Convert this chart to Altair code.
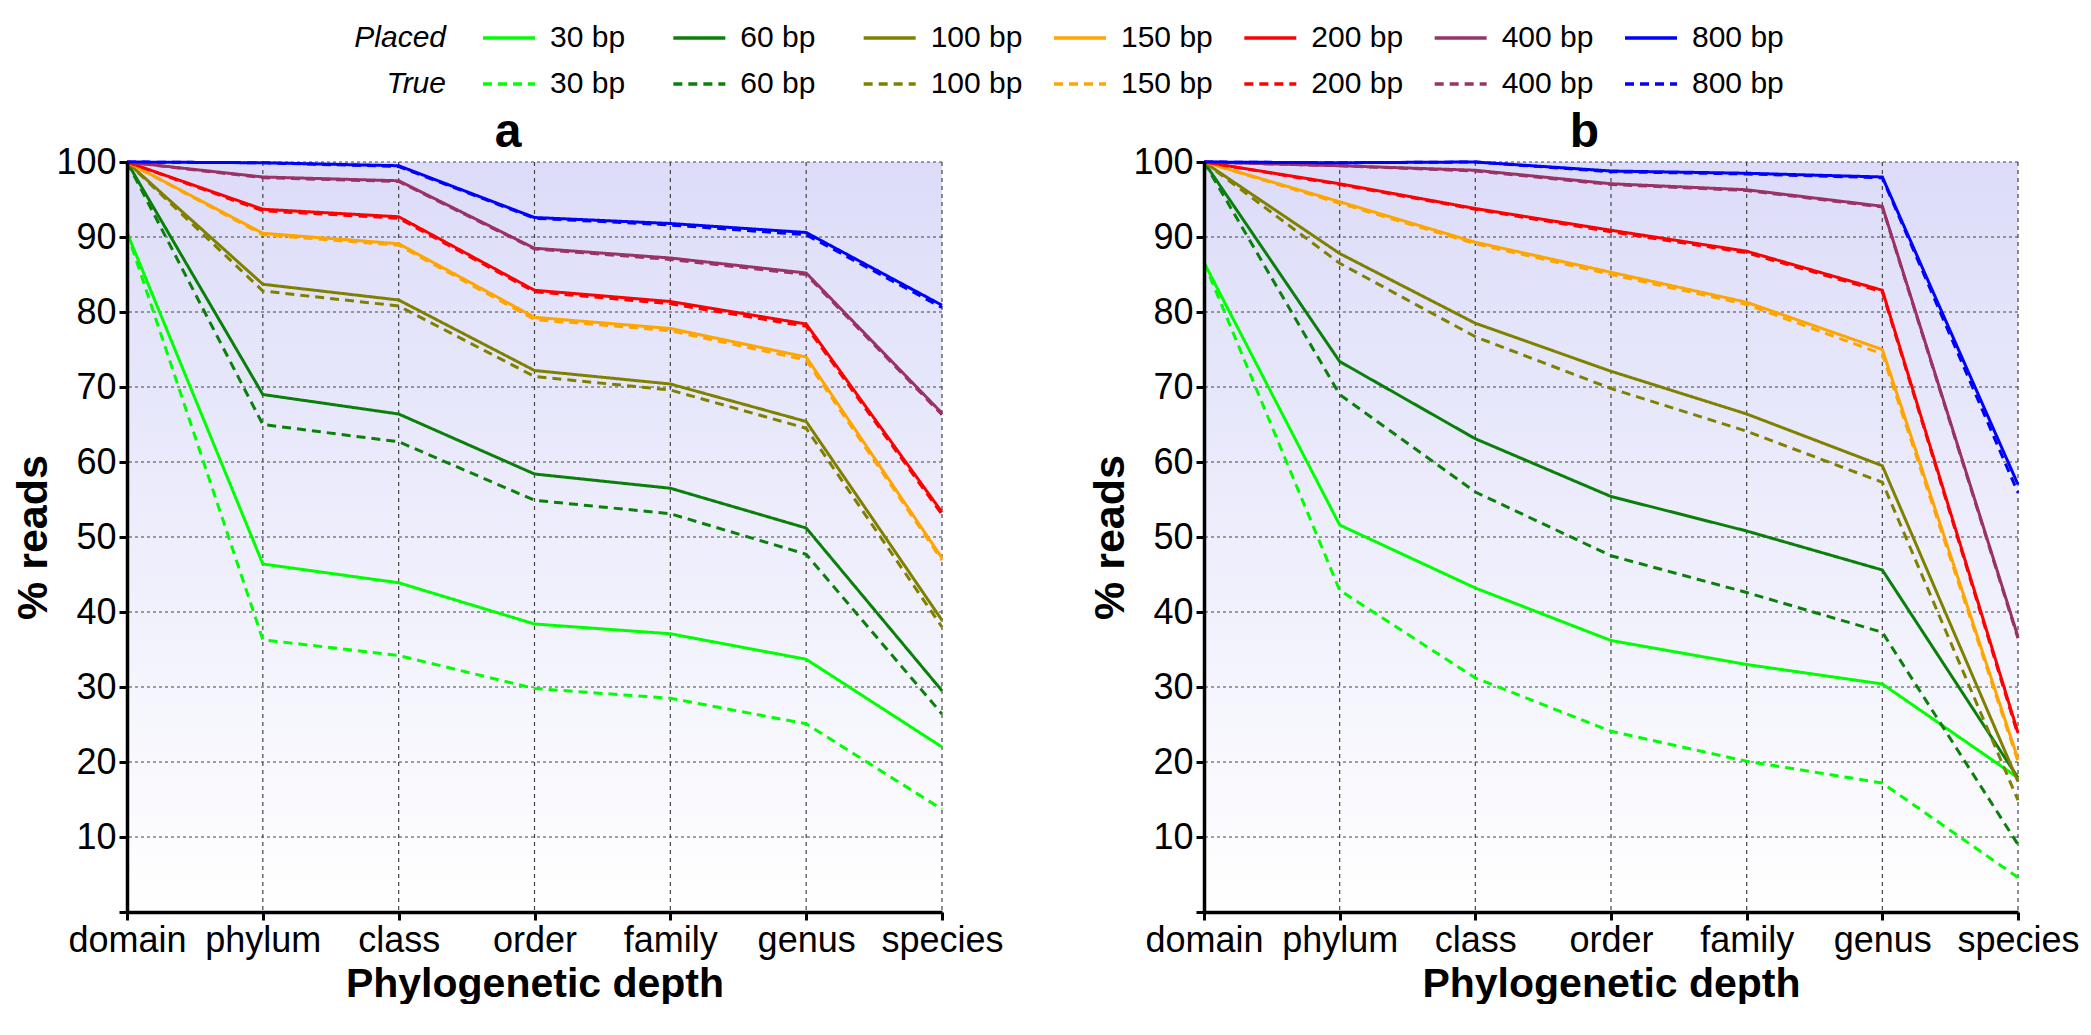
import altair as alt
import pandas as pd

RANKS = ["domain", "phylum", "class", "order", "family", "genus", "species"]
LENGTHS = ["30 bp", "60 bp", "100 bp", "150 bp", "200 bp", "400 bp", "800 bp"]
COLORS = ["#00ff00", "#0a800a", "#808000", "#ffa500", "#ff0000", "#993366", "#0000ff"]
KINDS = ["Placed", "True"]
Y_TICKS = [0, 10, 20, 30, 40, 50, 60, 70, 80, 90, 100]

# panel a
A_PLACED = {
    "30 bp": [90.6, 46.4, 43.9, 38.4, 37.1, 33.7, 22.0],
    "60 bp": [100, 69.0, 66.4, 58.4, 56.5, 51.2, 29.5],
    "100 bp": [100, 83.7, 81.6, 72.2, 70.4, 65.4, 38.9],
    "150 bp": [100, 90.5, 89.1, 79.3, 77.8, 74.0, 47.2],
    "200 bp": [100, 93.7, 92.7, 82.9, 81.4, 78.4, 53.3],
    "400 bp": [100, 98.0, 97.5, 88.5, 87.2, 85.2, 66.5],
    "800 bp": [100, 99.9, 99.5, 92.6, 91.8, 90.6, 80.9],
}
A_TRUE = {
    "30 bp": [90.6, 36.3, 34.2, 29.8, 28.5, 25.1, 13.7],
    "60 bp": [100, 65.0, 62.7, 54.9, 53.1, 47.7, 26.4],
    "100 bp": [100, 82.8, 80.8, 71.4, 69.6, 64.5, 38.0],
    "150 bp": [100, 90.3, 88.9, 79.0, 77.5, 73.6, 46.9],
    "200 bp": [100, 93.5, 92.5, 82.7, 81.1, 78.1, 53.0],
    "400 bp": [100, 97.9, 97.4, 88.4, 87.0, 85.0, 66.3],
    "800 bp": [100, 99.9, 99.4, 92.5, 91.6, 90.3, 80.6],
}
# panel b
B_PLACED = {
    "30 bp": [86.6, 51.6, 43.2, 36.2, 33.0, 30.4, 17.9],
    "60 bp": [100, 73.4, 63.1, 55.4, 50.8, 45.6, 17.9],
    "100 bp": [100, 87.8, 78.5, 72.1, 66.4, 59.5, 17.4],
    "150 bp": [100, 94.7, 89.3, 85.3, 81.3, 75.0, 20.4],
    "200 bp": [100, 97.1, 93.8, 90.9, 88.1, 82.9, 23.9],
    "400 bp": [100, 99.5, 98.9, 97.1, 96.3, 94.1, 36.7],
    "800 bp": [100, 99.9, 100, 98.8, 98.5, 98.0, 57.0],
}
B_TRUE = {
    "30 bp": [86.6, 42.9, 31.2, 24.1, 20.1, 17.2, 4.6],
    "60 bp": [100, 69.0, 56.0, 47.5, 42.6, 37.3, 9.0],
    "100 bp": [100, 86.5, 76.7, 69.8, 64.1, 57.3, 14.9],
    "150 bp": [100, 94.5, 89.1, 85.0, 81.0, 74.4, 20.1],
    "200 bp": [100, 97.0, 93.7, 90.7, 87.9, 82.7, 23.6],
    "400 bp": [100, 99.5, 98.8, 97.0, 96.2, 94.0, 36.5],
    "800 bp": [100, 99.9, 100, 98.7, 98.4, 97.9, 55.9],
}

FONT = "Liberation Sans, Arial, Helvetica, sans-serif"

rows = []
for panel, placed, true in (("a", A_PLACED, A_TRUE), ("b", B_PLACED, B_TRUE)):
    for kind, series in (("Placed", placed), ("True", true)):
        for length in LENGTHS:
            for rank, v in zip(RANKS, series[length]):
                rows.append(dict(panel=panel, kind=kind, length=length, rank=rank, value=v))
df = pd.DataFrame(rows)

color_scale = alt.Scale(domain=LENGTHS, range=COLORS)
dash_scale = alt.Scale(domain=KINDS, range=[[1, 0], [9, 6]])

gradient = alt.LinearGradient(
    gradient="linear",
    stops=[alt.GradientStop(color="#dcdcf9", offset=0),
           alt.GradientStop(color="#ffffff", offset=1)],
    x1=0, x2=0, y1=0, y2=1,
)


def panel(name, width):
    xs = alt.Scale(type="point", padding=0, domain=RANKS)
    ys = alt.Scale(domain=[Y_TICKS[0], Y_TICKS[-1]], nice=False)
    xaxis = alt.Axis(
        title="Phylogenetic depth", labelAngle=0, labelFontSize=36, labelFont=FONT,
        titleFontSize=41, titleFont=FONT, titleFontWeight="bold", titleColor="black",
        labelColor="black", tickSize=8, tickWidth=3, tickColor="black",
        domainWidth=3.5, domainColor="black", labelPadding=3, titlePadding=6,
        grid=False, zindex=1,
    )
    yaxis = alt.Axis(
        title="% reads", values=Y_TICKS, labelExpr="datum.value == 0 ? '' : datum.label",
        labelFontSize=36, labelFont=FONT, titleFontSize=43, titleFont=FONT,
        titleFontWeight="bold", titleColor="black", labelColor="black",
        tickSize=8, tickWidth=3, tickColor="black", domainWidth=3.5, domainColor="black",
        labelPadding=3, titlePadding=0, grid=False, zindex=1,
    )
    bg_df = pd.DataFrame({"rank": RANKS, "top": Y_TICKS[-1], "bottom": Y_TICKS[0]})
    bg = alt.Chart(bg_df).mark_area(fill=gradient, line=False).encode(
        x=alt.X("rank:O", scale=xs, sort=RANKS, axis=xaxis),
        y=alt.Y("top:Q", scale=ys, axis=yaxis),
        y2="bottom:Q",
    )
    gh = alt.Chart(pd.DataFrame({"v": Y_TICKS[1:]})).mark_rule(
        strokeDash=[3, 3], color="#444444", strokeWidth=1.2
    ).encode(y=alt.Y("v:Q", scale=ys, axis=yaxis))
    gv = alt.Chart(pd.DataFrame({"rank": RANKS})).mark_rule(
        strokeDash=[4, 4], color="#444444", strokeWidth=1.2
    ).encode(x=alt.X("rank:O", scale=xs, sort=RANKS, axis=xaxis))
    lines = alt.Chart(df[df.panel == name]).mark_line(strokeWidth=3).encode(
        x=alt.X("rank:O", scale=xs, sort=RANKS, axis=xaxis),
        y=alt.Y("value:Q", scale=ys, axis=yaxis),
        color=alt.Color("length:N", scale=color_scale, legend=None),
        strokeDash=alt.StrokeDash("kind:N", scale=dash_scale, legend=None),
        detail="kind:N",
        order=alt.Order("kind:N", sort="descending"),
    )
    return alt.layer(bg, gh, gv, lines).properties(
        width=width, height=750,
        title=alt.TitleParams(name, fontSize=48, font=FONT, fontWeight="bold",
                              anchor="middle", frame="bounds", offset=-13, color="black"),
    )


# legend
leg_rows = []
for ki, kind in enumerate(KINDS):
    for li, length in enumerate(LENGTHS):
        leg_rows.append(dict(kind=kind, row=ki, length=length, idx=li))
leg = pd.DataFrame(leg_rows)
lx = alt.X("idx:Q", scale=alt.Scale(domain=[0, len(LENGTHS) - 1], range=[356, 1498]), axis=None)
ly = alt.Y("row:Q", scale=alt.Scale(domain=[0, 1], range=[30, 76]), axis=None)

leg_lines = alt.Chart(leg).mark_rule(strokeWidth=3.5, x2Offset=52).encode(
    x=lx, x2="idx:Q", y=ly,
    color=alt.Color("length:N", scale=color_scale, legend=None),
    strokeDash=alt.StrokeDash("kind:N", scale=dash_scale, legend=None),
)
leg_text = alt.Chart(leg).mark_text(
    align="left", baseline="middle", dx=67, fontSize=30, font=FONT, color="black"
).encode(x=lx, y=ly, text="length:N")
leg_kind = alt.Chart(leg[leg.idx == 0]).mark_text(
    align="right", baseline="middle", dx=-37, fontSize=30, font=FONT,
    fontStyle="italic", color="black"
).encode(x=lx, y=ly, text="kind:N")
legend = alt.layer(leg_lines, leg_text, leg_kind).properties(width=1800, height=90)

chart = alt.vconcat(
    legend,
    alt.hconcat(panel("a", 815), panel("b", 814), spacing=85),
    spacing=10,
).properties(padding={"left": 4, "top": 0, "right": 0, "bottom": 0}).configure_view(stroke=None)

chart.save("out.html", embed_options={"renderer": "svg", "actions": False})
